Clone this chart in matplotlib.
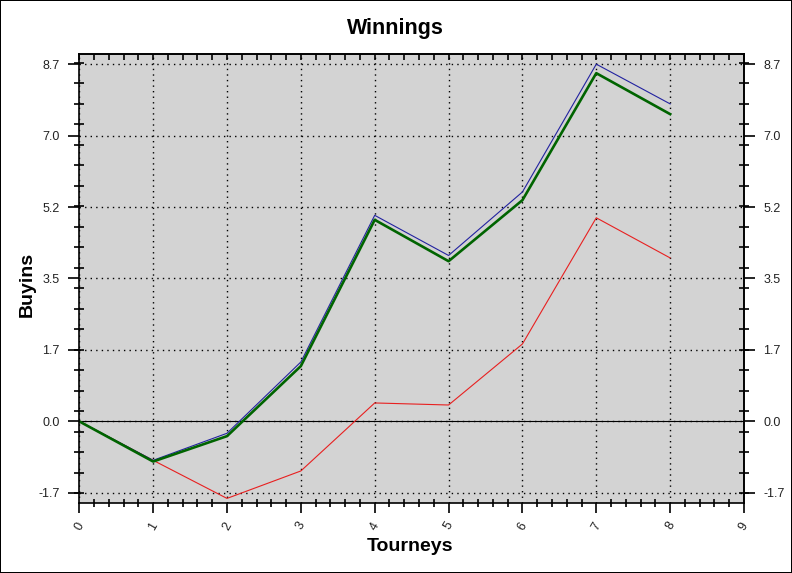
import numpy as np
import matplotlib
matplotlib.use('Agg')
import matplotlib.pyplot as plt
from matplotlib.ticker import FixedLocator, MultipleLocator, FormatStrFormatter

# data
tourneys = [0, 1, 2, 3, 4, 5, 6, 7, 8]
blue_vals = [0.0, -0.95, -0.29, 1.45, 5.03, 4.05, 5.60, 8.72, 7.75]
green_vals = [0.0, -0.98, -0.36, 1.35, 4.92, 3.91, 5.40, 8.50, 7.50]
red_vals = [0.0, -0.95, -1.88, -1.21, 0.45, 0.40, 1.89, 4.97, 3.99]

plt.rcParams['font.family'] = ['Liberation Sans', 'DejaVu Sans']

fig = plt.figure(figsize=(7.92, 5.73), dpi=100)
fig.patch.set_facecolor('white')
fig.patch.set_edgecolor('black')
fig.patch.set_linewidth(1.2)

ax = fig.add_axes([0.1001, 0.1216, 0.8393, 0.7836])
ax.set_facecolor('#d3d3d3')

ax.plot(tourneys, red_vals, color='#e82020', lw=0.8, zorder=3)
ax.plot(tourneys, blue_vals, color='#2222a0', lw=0.8, zorder=4)
ax.plot(tourneys, green_vals, color='#006400', lw=1.9, zorder=5)
ax.axhline(0, color='black', lw=0.8, zorder=2)

ax.set_xlim(0, 9)
ax.set_ylim(-2.0, 8.96)

step = max(blue_vals) / 5.0
yt = [step * k for k in range(-1, 6)]
ax.yaxis.set_major_locator(FixedLocator(yt))
ax.yaxis.set_major_formatter(FormatStrFormatter('%.1f'))
ax.yaxis.set_minor_locator(FixedLocator(np.arange(-1.75, 9.0, 0.5)))
ax.xaxis.set_major_locator(MultipleLocator(1))
ax.xaxis.set_minor_locator(MultipleLocator(0.2))

ax.grid(True, which='major', color='black', linestyle=(0, (1, 3)), lw=1)
for s in ax.spines.values():
    s.set_linewidth(1.2)
    s.set_zorder(6)

ax.tick_params(axis='both', which='both', labelsize=9, labelcolor='#222222', width=1.2)
ax.tick_params(axis='x', which='major', direction='out', length=7, pad=5)
ax.tick_params(axis='x', which='minor', direction='inout', length=6)
ax.tick_params(axis='y', which='major', direction='out', length=8, pad=6)
ax.tick_params(axis='y', which='minor', direction='inout', length=7)
for lbl in ax.get_xticklabels():
    lbl.set_rotation(60)

# right axis with same labels
ax_r = ax.secondary_yaxis('right')
ax_r.yaxis.set_major_locator(FixedLocator(yt))
ax_r.yaxis.set_major_formatter(FormatStrFormatter('%.1f'))
ax_r.yaxis.set_minor_locator(FixedLocator(np.arange(-1.75, 9.0, 0.5)))
ax_r.tick_params(which='major', direction='out', length=8, pad=6, width=1.2,
                 labelsize=9, labelcolor='#222222')
ax_r.tick_params(which='minor', direction='inout', length=7, width=1.2)
ax_r.spines['right'].set_linewidth(1.2)

# top axis: ticks only, pointing in
ax_t = ax.secondary_xaxis('top')
ax_t.xaxis.set_major_locator(MultipleLocator(1))
ax_t.xaxis.set_minor_locator(MultipleLocator(0.2))
ax_t.tick_params(which='both', direction='in', length=4, width=1.2, labeltop=False)
ax_t.spines['top'].set_linewidth(1.2)

fig.text(0.499, 0.951, 'Winnings', ha='center', va='center', fontsize=15.5, fontweight='bold')
fig.text(0.518, 0.047, 'Tourneys', ha='center', va='center', fontsize=14, fontweight='bold')
fig.text(0.034, 0.503, 'Buyins', ha='center', va='center', rotation=90, fontsize=14, fontweight='bold')

fig.savefig('out.png', dpi=100)
